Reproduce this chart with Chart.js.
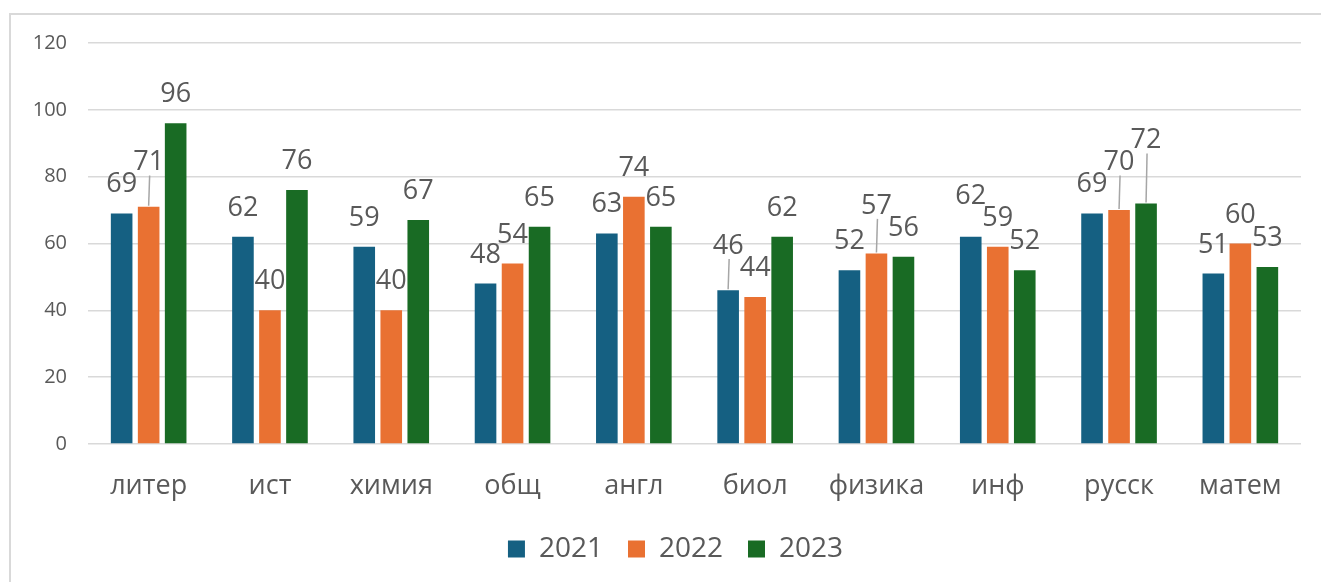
<!DOCTYPE html>
<html>
<head>
<meta charset="utf-8">
<script src="https://cdn.jsdelivr.net/npm/chart.js@4.4.1/dist/chart.umd.min.js"></script>
<style>
    html, body { margin: 0; padding: 0; background: #fff; overflow: hidden; }
    #frame {
        position: absolute; left: 9px; top: 13px; width: 1400px; height: 700px;
        border-left: 2px solid #d9d9d9; border-top: 2px solid #d9d9d9;
    }
    #wrap { position: absolute; left: 0; top: 0; width: 1321px; height: 582px; }
</style>
</head>
<body>
<div id="frame"></div>
<div id="wrap"><canvas id="chart" width="1321" height="582"></canvas></div>
<script>
// Данные диаграммы
const subjects = ['литер', 'ист', 'химия', 'общ', 'англ', 'биол', 'физика', 'инф', 'русск', 'матем'];
const years = ['2021', '2022', '2023'];
const values2021 = [69, 62, 59, 48, 63, 46, 52, 62, 69, 51];
const values2022 = [71, 40, 40, 54, 74, 44, 57, 59, 70, 60];
const values2023 = [96, 76, 67, 65, 65, 62, 56, 52, 72, 53];
const yTicks = [0, 20, 40, 60, 80, 100, 120];

const colors = ['#156082', '#E97132', '#196B24'];
const textColor = '#595959';
const fontFamily = '"Open Sans", "Liberation Sans", sans-serif';

// Подписи данных над столбцами (с подъёмом при наложении)
const barLabels = {
    id: 'barLabels',
    afterDatasetsDraw(chart) {
        const ctx = chart.ctx;
        ctx.save();
        ctx.font = '27px ' + fontFamily;
        ctx.textAlign = 'center';
        ctx.textBaseline = 'alphabetic';
        const labelH = 20;
        const gap = 21;
        subjects.forEach((_, i) => {
            const items = chart.data.datasets.map((ds, d) => {
                const bar = chart.getDatasetMeta(d).data[i];
                const text = String(ds.data[i]);
                const w = ctx.measureText(text).width;
                const base = bar.y - gap;
                return { text, x: bar.x, barTop: bar.y, w, base, start: base, value: ds.data[i] };
            });
            // разводим наложившиеся подписи: выше поднимается подпись большего значения
            for (let iter = 0; iter < 10; iter++) {
                let moved = false;
                for (let a = 0; a < items.length; a++) {
                    for (let b = a + 1; b < items.length; b++) {
                        const A = items[a], B = items[b];
                        const xo = Math.min(A.x + A.w / 2, B.x + B.w / 2) - Math.max(A.x - A.w / 2, B.x - B.w / 2);
                        const yo = Math.min(A.base, B.base) - Math.max(A.base - labelH, B.base - labelH);
                        if (xo > 1 && yo > 1) {
                            const up = A.value >= B.value ? A : B;
                            const low = up === A ? B : A;
                            up.base = low.base - labelH - 2;
                            moved = true;
                        }
                    }
                }
                if (!moved) break;
            }
            items.forEach(it => {
                if (it.start - it.base > 12) {
                    ctx.strokeStyle = '#a6a6a6';
                    ctx.lineWidth = 1.5;
                    ctx.beginPath();
                    ctx.moveTo(it.x + 1, it.base + 5);
                    ctx.lineTo(it.x, it.barTop - 1);
                    ctx.stroke();
                }
                ctx.fillStyle = textColor;
                ctx.fillText(it.text, it.x, it.base);
            });
        });
        ctx.restore();
    }
};

// Легенда в оригинале центрирована по всей рамке, сдвигаем немного вправо
const legendShift = {
    id: 'legendShift',
    afterLayout(chart) {
        if (chart.legend) {
            chart.legend.left += 25;
            chart.legend.right += 25;
        }
    }
};

const seriesValues = [values2021, values2022, values2023];

new Chart(document.getElementById('chart').getContext('2d'), {
    type: 'bar',
    data: {
        labels: subjects,
        datasets: years.map((y, k) => ({
            label: y,
            data: seriesValues[k],
            backgroundColor: colors[k],
            borderWidth: 0,
            barPercentage: 0.8,
            categoryPercentage: 0.668
        }))
    },
    options: {
        responsive: false,
        animation: false,
        layout: { padding: { left: 0, right: 20, top: 43, bottom: 9 } },
        scales: {
            x: {
                grid: { display: false },
                border: { display: false },
                ticks: { color: textColor, font: { family: fontFamily, size: 27 }, padding: 18, maxRotation: 0 },
                afterFit(scale) { scale.height = 66; }
            },
            y: {
                min: 0,
                max: 120,
                afterBuildTicks(scale) { scale.ticks = yTicks.map(v => ({ value: v })); },
                grid: { color: '#d9d9d9', lineWidth: 1.5, drawTicks: false },
                border: { display: false },
                ticks: { color: textColor, font: { family: fontFamily, size: 20 }, padding: 21 },
                afterFit(scale) { scale.width = 88; }
            }
        },
        plugins: {
            legend: {
                position: 'bottom',
                labels: {
                    color: textColor,
                    font: { family: fontFamily, size: 28 },
                    boxWidth: 17,
                    boxHeight: 17,
                    padding: 25
                }
            },
            tooltip: { enabled: false }
        }
    },
    plugins: [barLabels, legendShift]
});
</script>
</body>
</html>
